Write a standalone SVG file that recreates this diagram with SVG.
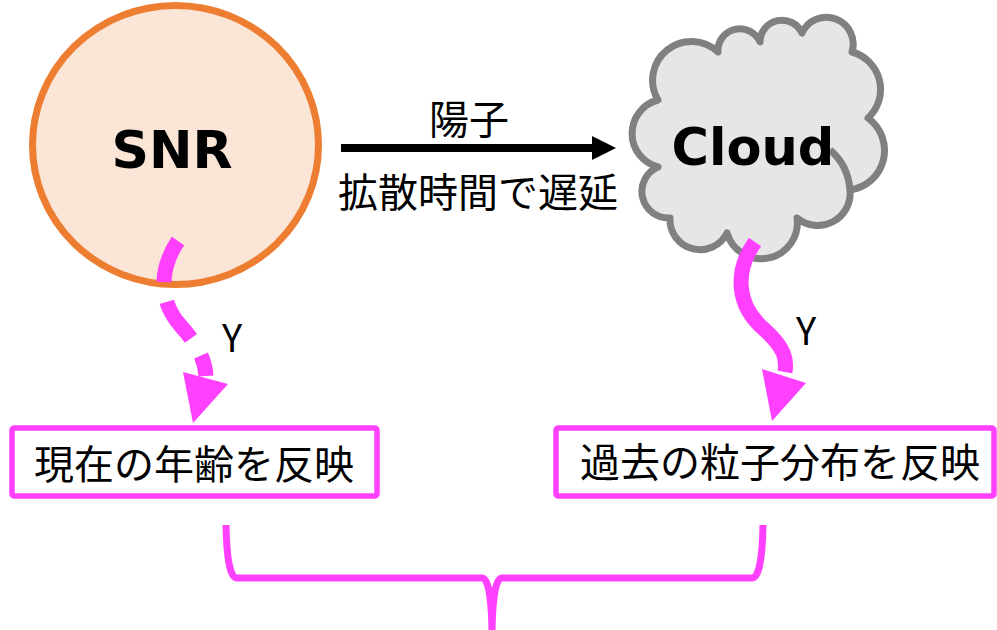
<svg xmlns="http://www.w3.org/2000/svg" width="997" height="630" viewBox="0 0 997 630">
<style>
.jp{font-family:"Noto Sans CJK JP","Noto Sans",sans-serif;fill:#000}
.bold{font-family:"DejaVu Sans","Liberation Sans",sans-serif;font-weight:bold;fill:#000}
.mag{fill:none;stroke:#ff40ff}
.box{fill:#fff;stroke:#ff40ff;stroke-width:5.5}
</style>
<rect width="997" height="630" fill="#fff"/>
<g id="snr">
<ellipse cx="175.5" cy="145" rx="143" ry="139.5" fill="#fbe5d6" stroke="#ed7d31" stroke-width="7"/>
<text class="bold" x="172" y="168" font-size="52" text-anchor="middle">SNR</text>
</g>
<g id="cloud">
<path d="M658,100 A34.6,34.6 0 0 0 658,167 A26.6,26.6 0 0 0 670,218 A30.1,30.1 0 0 0 727,233 A35.9,35.9 0 0 0 797,218 A32.4,32.4 0 0 0 850,190 A40,40 0 0 0 868,118 A38.8,38.8 0 0 0 852,52 A26.8,26.8 0 0 0 802,33 A22,22 0 0 0 760,42 A21.9,21.9 0 0 0 718,52 A38.8,38.8 0 0 0 658,100 Z" fill="#e7e6e6" stroke="#808080" stroke-width="7" stroke-linejoin="round"/>
<path d="M830,150 Q848,165 850,190" fill="none" stroke="#808080" stroke-width="7"/>
<text class="bold" x="753" y="165" font-size="51" text-anchor="middle">Cloud</text>
</g>
<g id="box-left">
<rect class="box" x="12" y="428" width="365" height="68" rx="2"/>
<text class="jp" x="194" y="479" font-size="40" text-anchor="middle">現在の年齢を反映</text>
</g>
<g id="box-right">
<rect class="box" x="556" y="428" width="438" height="68" rx="2"/>
<text class="jp" x="780" y="477" font-size="40" text-anchor="middle">過去の粒子分布を反映</text>
</g>
<g id="connectors">
<line x1="341" y1="148" x2="594" y2="148" stroke="#000" stroke-width="8"/>
<polygon points="592,136 616,148 592,160" fill="#000"/>
<text class="jp" x="469" y="134" font-size="40" text-anchor="middle">陽子</text>
<text class="jp" x="478" y="207" font-size="40" text-anchor="middle">拡散時間で遅延</text>
<path class="mag" d="M178,241 C160,268 158,300 180,325 C198,345 205,360 206,376" stroke-width="15" stroke-dasharray="44 20"/>
<polygon points="183,372 228,384 193,423" fill="#ff40ff"/>
<text class="jp" x="232" y="352" font-size="38" text-anchor="middle">Y</text>
<path class="mag" d="M755,242 C735,270 735,305 765,330 C785,348 787,360 785,372" stroke-width="15"/>
<polygon points="762,369 806,383 772,421" fill="#ff40ff"/>
<text class="jp" x="806" y="345" font-size="38" text-anchor="middle">Y</text>
<path class="mag" d="M226,525 Q227,578 237,578 L482,578 Q491,578 492,630 Q493,578 502,578 L752,578 Q762,578 763,525" stroke-width="7" stroke-linejoin="round"/>
</g>
</svg>
